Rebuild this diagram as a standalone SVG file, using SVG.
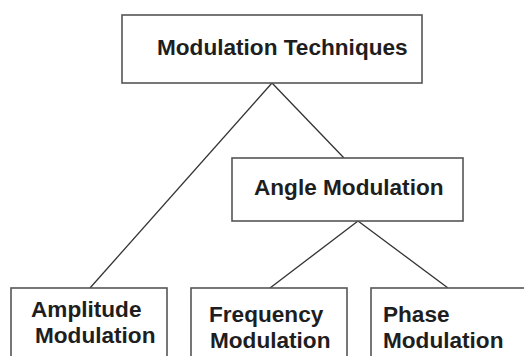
<svg xmlns="http://www.w3.org/2000/svg" width="524" height="356" viewBox="0 0 524 356">
  <style>
    .box { fill: #ffffff; stroke: #555555; stroke-width: 1.6; }
    .lbl { font-family: "Liberation Sans", Arial, sans-serif; font-weight: bold; font-size: 22.6px; fill: #1e1e1e; }
    .edge { stroke: #333333; stroke-width: 1.3; fill: none; }
  </style>
  <rect width="524" height="356" fill="#ffffff"/>

  <g id="connectors">
    <line class="edge" x1="272" y1="83" x2="90" y2="288"/>
    <line class="edge" x1="272" y1="83" x2="344" y2="158"/>
    <line class="edge" x1="358" y1="221" x2="270" y2="288"/>
    <line class="edge" x1="358" y1="221" x2="448" y2="288"/>
  </g>

  <g id="modulation-techniques">
    <rect class="box" x="122" y="15" width="300" height="68"/>
    <text class="lbl" x="157" y="55">Modulation Techniques</text>
  </g>

  <g id="angle-modulation">
    <rect class="box" x="232" y="158" width="231" height="63"/>
    <text class="lbl" x="254" y="195">Angle Modulation</text>
  </g>

  <g id="amplitude-modulation">
    <rect class="box" x="11" y="288" width="156" height="80"/>
    <text class="lbl" x="31" y="317">Amplitude</text>
    <text class="lbl" x="35" y="343">Modulation</text>
  </g>

  <g id="frequency-modulation">
    <rect class="box" x="191" y="288" width="156" height="80"/>
    <text class="lbl" x="209" y="322">Frequency</text>
    <text class="lbl" x="210" y="348">Modulation</text>
  </g>

  <g id="phase-modulation">
    <rect class="box" x="371" y="288" width="170" height="80"/>
    <text class="lbl" x="383" y="322">Phase</text>
    <text class="lbl" x="383" y="348">Modulation</text>
  </g>
</svg>
